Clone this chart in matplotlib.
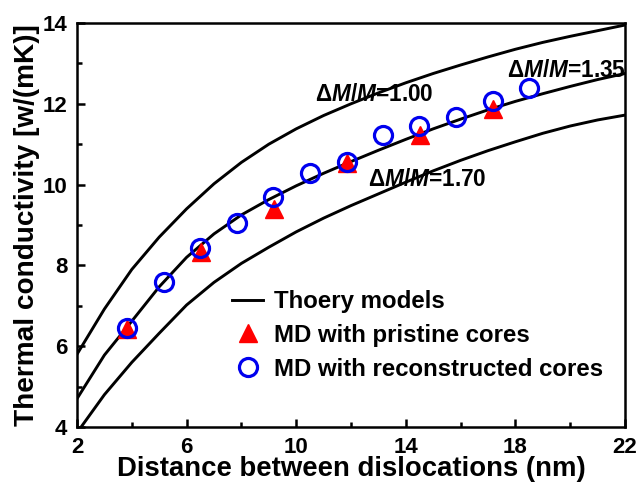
import matplotlib
matplotlib.use("Agg")
import matplotlib.pyplot as plt
from matplotlib.ticker import FixedLocator

plt.rcParams['font.family'] = ['Liberation Sans', 'DejaVu Sans']
plt.rcParams['font.weight'] = 'bold'
plt.rcParams['mathtext.fontset'] = 'custom'
plt.rcParams['mathtext.rm'] = 'Liberation Sans:bold'
plt.rcParams['mathtext.it'] = 'Liberation Sans:bold:italic'
plt.rcParams['mathtext.bf'] = 'Liberation Sans:bold'

# ---- data ----
theory_x = [2, 3, 4, 5, 6, 7, 8, 9, 10, 11, 12, 13, 14, 15, 16, 17, 18, 19, 20, 21, 22]
theory_100 = [5.80, 6.92, 7.90, 8.70, 9.40, 10.02, 10.55, 11.00, 11.38, 11.71, 12.00,
              12.27, 12.52, 12.75, 12.96, 13.16, 13.35, 13.52, 13.67, 13.81, 13.95]
theory_135 = [4.70, 5.78, 6.62, 7.47, 8.20, 8.78, 9.25, 9.63, 9.97, 10.28, 10.57,
              10.85, 11.12, 11.38, 11.62, 11.85, 12.06, 12.25, 12.43, 12.60, 12.75]
theory_170_x = [2.15, 3, 4, 5, 6, 7, 8, 9, 10, 11, 12, 13, 14, 15, 16, 17, 18, 19, 20, 21, 22]
theory_170 = [4.00, 4.80, 5.60, 6.32, 7.02, 7.58, 8.05, 8.45, 8.83, 9.17, 9.48,
              9.77, 10.06, 10.34, 10.60, 10.84, 11.06, 11.27, 11.45, 11.60, 11.72]

recon_x = [3.84, 5.18, 6.49, 7.84, 9.16, 10.50, 11.84, 13.18, 14.49, 15.83, 17.17, 18.51]
recon_y = [6.44, 7.58, 8.42, 9.05, 9.70, 10.28, 10.57, 11.23, 11.45, 11.67, 12.08, 12.38]
pristine_x = [3.84, 6.51, 9.18, 11.84, 14.50, 17.17]
pristine_y = [6.42, 8.34, 9.40, 10.54, 11.23, 11.86]

x_major = [2, 6, 10, 14, 18, 22]
x_minor = [4, 8, 12, 16, 20]
y_major = [4, 6, 8, 10, 12, 14]
y_minor = [5, 7, 9, 11, 13]

curve_labels = [r'$\Delta\mathit{M/M}$=1.00', r'$\Delta\mathit{M/M}$=1.35', r'$\Delta\mathit{M/M}$=1.70']
legend_labels = ['Thoery models', 'MD with pristine cores', 'MD with reconstructed cores']
xlabel = 'Distance between dislocations (nm)'
ylabel = 'Thermal conductivity [w/(mK)]'

fig = plt.figure(figsize=(6.39, 4.83), dpi=100)
ax = fig.add_axes([77/639, 1-427/483, (625-77)/639, (427-23)/483])

l1, = ax.plot(theory_x, theory_100, color='black', lw=2.1)
ax.plot(theory_x, theory_135, color='black', lw=2.1)
ax.plot(theory_170_x, theory_170, color='black', lw=2.1)
tri, = ax.plot(pristine_x, pristine_y, linestyle='none', marker='^', ms=13,
               color='#ff0000', mec='#ff0000')
circ, = ax.plot(recon_x, recon_y, linestyle='none', marker='o', ms=13,
                mfc='none', mec='#0000ee', mew=2.3)

ax.set_xlim(2, 22)
ax.set_ylim(4, 14)
ax.xaxis.set_major_locator(FixedLocator(x_major))
ax.xaxis.set_minor_locator(FixedLocator(x_minor))
ax.yaxis.set_major_locator(FixedLocator(y_major))
ax.yaxis.set_minor_locator(FixedLocator(y_minor))
ax.tick_params(which='both', direction='in', width=1.8, labelsize=16)
ax.tick_params(which='major', length=6, pad=7)
ax.tick_params(which='minor', length=3.5)
for s in ax.spines.values():
    s.set_linewidth(1.8)
for lab in ax.get_xticklabels() + ax.get_yticklabels():
    lab.set_fontweight('bold')

ax.set_xlabel(xlabel, fontsize=19.8, fontweight='bold', labelpad=-1)
ax.set_ylabel(ylabel, fontsize=20.2, fontweight='bold', labelpad=2)

ax.text(10.69, 12.24, curve_labels[0], fontsize=16.3, fontweight='bold', va='center', ha='left')
ax.text(17.69, 12.82, curve_labels[1], fontsize=16.3, fontweight='bold', va='center', ha='left')
ax.text(12.62, 10.13, curve_labels[2], fontsize=16.3, fontweight='bold', va='center', ha='left')

ax.legend([l1, tri, circ], legend_labels, loc='upper left',
          bbox_to_anchor=(232/639, 1-290/483), bbox_transform=fig.transFigure,
          frameon=False, fontsize=17.3, handlelength=1.3, handletextpad=0.45,
          labelspacing=0.45, borderpad=0, borderaxespad=0, numpoints=1)

fig.savefig('out.png', dpi=100)
